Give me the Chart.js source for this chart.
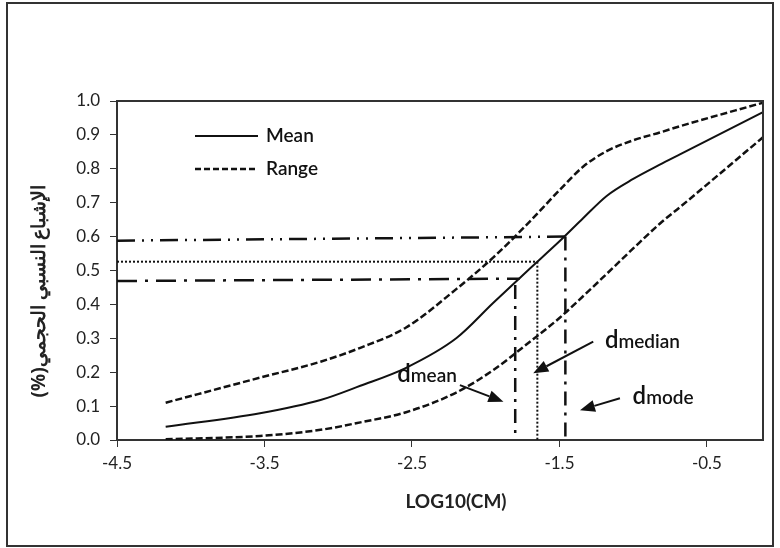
<!DOCTYPE html>
<html>
<head>
<meta charset="utf-8">
<script src="https://cdn.jsdelivr.net/npm/chart.js@4.4.1/dist/chart.umd.min.js"></script>
<style>
  html, body { margin: 0; padding: 0; background: #fff; }
  #wrap { width: 780px; height: 548px; position: relative; }
</style>
</head>
<body>
<div id="wrap"><canvas id="satChart"></canvas></div>
<script>
// ---- data ----
const logSize    = [-4.17, -3.53, -3.12, -2.85, -2.54, -2.2, -1.95, -1.72, -1.5, -1.34, -1.18, -1.0, -0.82, -0.68, -0.12];
const meanSat    = [0.039, 0.079, 0.118, 0.160, 0.213, 0.300, 0.404, 0.498, 0.586, 0.654, 0.720, 0.770, 0.812, 0.843, 0.967];
const rangeUpper = [0.110, 0.184, 0.231, 0.272, 0.332, 0.445, 0.538, 0.636, 0.737, 0.806, 0.852, 0.884, 0.907, 0.926, 0.995];
const rangeLower = [0.002, 0.012, 0.030, 0.052, 0.082, 0.140, 0.206, 0.283, 0.360, 0.424, 0.490, 0.565, 0.638, 0.688, 0.893];
const xTicks = [-4.5, -3.5, -2.5, -1.5, -0.5];

// characteristic diameters: mean, median, mode
const dNames     = ['mean', 'median', 'mode'];
const dX         = [-1.80, -1.65, -1.46];
const dLevelLeft = [0.469, 0.526, 0.588];
const dLevelEnd  = [0.476, 0.526, 0.600];
const dLevelStop = [-1.77, -1.65, -1.46];
const dVertTop   = [0.457, 0.526, 0.600];

// label anchors and arrows (data units)
const labelAt   = [[-2.60, 0.172], [-1.192, 0.270], [-1.004, 0.105]];
const arrowFrom = [[-2.175, 0.162], [-1.271, 0.290], [-1.090, 0.123]];
const arrowTo   = [[-1.880, 0.113], [-1.678, 0.197], [-1.361, 0.088]];

const INK = '#111';
const FONT = "Lato, 'Open Sans', sans-serif";

function pts(xs, ys) {
  return xs.map((x, i) => ({ x: x, y: ys[i] }));
}

const hDash = [[20, 8, 3, 8], [2, 2], [18, 7, 2, 7, 2, 7]];
const vDash = [[14, 7, 3, 7], [2, 2], [14, 7, 3, 7]];

const refSets = [];
dX.forEach((dx, i) => {
  refSets.push({
    data: [{ x: xTicks[0], y: dLevelLeft[i] }, { x: dLevelStop[i], y: dLevelEnd[i] }],
    borderColor: INK, borderWidth: i === 1 ? 2 : 2.5, borderDash: hDash[i],
    pointRadius: 0, tension: 0
  });
  refSets.push({
    data: [{ x: dx, y: dVertTop[i] }, { x: dx, y: 0 }],
    borderColor: INK, borderWidth: i === 1 ? 2 : 2.5, borderDash: vDash[i],
    pointRadius: 0, tension: 0
  });
});

function drawArrow(ctx, x0, y0, x1, y1) {
  const ang = Math.atan2(y1 - y0, x1 - x0);
  const len = 15, half = 6;
  const bx = x1 - len * Math.cos(ang), by = y1 - len * Math.sin(ang);
  ctx.beginPath();
  ctx.moveTo(x0, y0);
  ctx.lineTo(bx, by);
  ctx.stroke();
  ctx.beginPath();
  ctx.moveTo(x1, y1);
  ctx.lineTo(bx + half * Math.sin(ang), by - half * Math.cos(ang));
  ctx.lineTo(bx - half * Math.sin(ang), by + half * Math.cos(ang));
  ctx.closePath();
  ctx.fill();
}

const overlay = {
  id: 'overlay',
  beforeDraw(chart) {
    const ctx = chart.ctx;
    ctx.save();
    ctx.fillStyle = '#fff';
    ctx.fillRect(0, 0, chart.width, chart.height);
    ctx.restore();
  },
  afterDraw(chart) {
    const { ctx, chartArea: a, scales } = chart;
    const sx = scales.x, sy = scales.y;
    ctx.save();

    // plot box (top & right)
    ctx.strokeStyle = '#333';
    ctx.lineWidth = 2;
    ctx.beginPath();
    ctx.moveTo(a.left, a.top);
    ctx.lineTo(a.right, a.top);
    ctx.lineTo(a.right, a.bottom);
    ctx.stroke();

    // outer frame
    ctx.strokeRect(7, 3, 766, 543);

    // arrows
    ctx.strokeStyle = INK;
    ctx.fillStyle = INK;
    ctx.lineWidth = 2;
    arrowFrom.forEach((f, i) => {
      const t = arrowTo[i];
      drawArrow(ctx, sx.getPixelForValue(f[0]), sy.getPixelForValue(f[1]),
                sx.getPixelForValue(t[0]), sy.getPixelForValue(t[1]));
    });

    // d labels
    ctx.textBaseline = 'alphabetic';
    ctx.textAlign = 'left';
    labelAt.forEach((p, i) => {
      const px = sx.getPixelForValue(p[0]), py = sy.getPixelForValue(p[1]);
      ctx.font = '600 24px ' + FONT;
      ctx.fillText('d', px, py);
      const w = ctx.measureText('d').width;
      ctx.font = '600 19px ' + FONT;
      ctx.fillText(dNames[i], px + w, py);
    });

    // legend
    ctx.lineWidth = 2;
    ctx.beginPath();
    ctx.moveTo(195, 136); ctx.lineTo(258, 136);
    ctx.stroke();
    ctx.lineWidth = 2.5;
    ctx.setLineDash([6, 3]);
    ctx.beginPath();
    ctx.moveTo(195, 169); ctx.lineTo(258, 169);
    ctx.stroke();
    ctx.setLineDash([]);
    ctx.font = '600 19px ' + FONT;
    ctx.textBaseline = 'middle';
    ctx.fillText('Mean', 266, 136);
    ctx.fillText('Range', 266, 169);

    // axis titles
    ctx.font = 'bold 19px ' + FONT;
    ctx.textAlign = 'center';
    ctx.fillStyle = '#222';
    ctx.fillText('LOG10(CM)', 456, 502);

    ctx.translate(40, 291);
    ctx.rotate(-Math.PI / 2);
    ctx.direction = 'rtl';
    ctx.font = 'bold 19px "Noto Sans", ' + FONT;
    ctx.fillText('الإشباع النسبي الحجمي(%)', 0, 0);

    ctx.restore();
  }
};

new Chart(document.getElementById('satChart'), {
  type: 'line',
  data: {
    datasets: [
      {
        label: 'Mean',
        data: pts(logSize, meanSat),
        borderColor: INK, borderWidth: 2,
        pointRadius: 0, cubicInterpolationMode: 'monotone'
      },
      {
        label: 'Range',
        data: pts(logSize, rangeUpper),
        borderColor: INK, borderWidth: 2.5, borderDash: [7, 3],
        pointRadius: 0, cubicInterpolationMode: 'monotone'
      },
      {
        label: 'Range',
        data: pts(logSize, rangeLower),
        borderColor: INK, borderWidth: 2.5, borderDash: [7, 3],
        pointRadius: 0, cubicInterpolationMode: 'monotone'
      }
    ].concat(refSets)
  },
  options: {
    responsive: true,
    maintainAspectRatio: false,
    animation: false,
    layout: { padding: { left: 8, top: 101, right: 17, bottom: 8 } },
    plugins: {
      legend: { display: false },
      tooltip: { enabled: false }
    },
    scales: {
      x: {
        type: 'linear',
        min: -4.5,
        max: -0.12,
        afterBuildTicks: (scale) => { scale.ticks = xTicks.map(v => ({ value: v })); },
        afterFit: (scale) => { scale.height = 100; },
        grid: { display: true, drawOnChartArea: false, drawTicks: true, tickLength: 7, color: '#333' },
        border: { display: true, color: '#333', width: 2 },
        ticks: {
          color: '#222', padding: 6, maxRotation: 0,
          font: { family: FONT, size: 17 },
          callback: (v) => v.toFixed(1)
        }
      },
      y: {
        min: 0,
        max: 1,
        afterFit: (scale) => { scale.width = 109; },
        grid: { display: true, drawOnChartArea: false, drawTicks: true, tickLength: 7, color: '#333' },
        border: { display: true, color: '#333', width: 2 },
        ticks: {
          stepSize: 0.1, color: '#222', padding: 10,
          font: { family: FONT, size: 17 },
          callback: (v) => v.toFixed(1)
        }
      }
    }
  },
  plugins: [overlay]
});
</script>
</body>
</html>
